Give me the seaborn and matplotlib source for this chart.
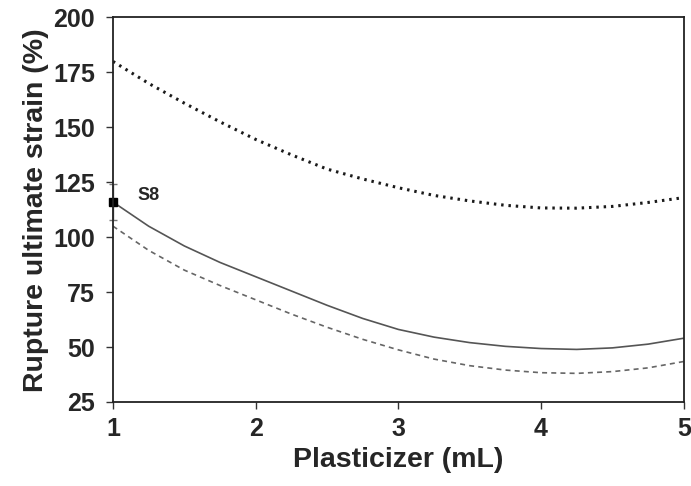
import matplotlib
matplotlib.use("Agg")
import matplotlib.pyplot as plt
import pandas as pd
import seaborn as sns

# values
plasticizer = [1.0, 1.25, 1.5, 1.75, 2.0, 2.25, 2.5, 2.75, 3.0,
               3.25, 3.5, 3.75, 4.0, 4.25, 4.5, 4.75, 5.0]
upper_strain = [180, 170, 161, 152.5, 144.5, 137.5, 131, 126.5, 122.5,
                119, 116.5, 114.5, 113.3, 113.2, 114, 115.8, 118]
mean_strain = [116, 105, 96, 88.5, 82, 75.5, 69, 63, 58,
               54.5, 52, 50.3, 49.3, 48.9, 49.6, 51.3, 54]
lower_strain = [105, 94, 85, 78, 71.5, 65, 59, 53.5, 48.7,
                44.5, 41.5, 39.5, 38.3, 38, 38.8, 40.5, 43.4]

s8_x = 1.0
s8_y = 116
s8_err = 8

df = pd.DataFrame({"x": plasticizer, "upper": upper_strain,
                   "mean": mean_strain, "lower": lower_strain})

sns.set_style("ticks")
plt.rcParams['font.family'] = ['Liberation Sans', 'DejaVu Sans']

fig = plt.figure(figsize=(6.91, 4.86), dpi=100)
ax = fig.add_axes([0.1635, 0.173, 0.826, 0.791])

sns.lineplot(data=df, x="x", y="upper", ax=ax, color="#1a1a1a",
             linewidth=2.2, linestyle=(0, (0.8, 1.6)))
sns.lineplot(data=df, x="x", y="mean", ax=ax, color="#555555", linewidth=1.2)
sns.lineplot(data=df, x="x", y="lower", ax=ax, color="#666666",
             linewidth=1.2, linestyle=(0, (3, 2.5)))

# S8 point
ax.errorbar([s8_x], [s8_y], yerr=[s8_err], fmt="s", color="black",
            markersize=6, ecolor="#777777", elinewidth=1, capsize=3,
            clip_on=False, zorder=5)
ax.text(1.175, 119, "S8", fontsize=13, fontweight="bold", va="center")

ax.set_xlim(1, 5)
ax.set_ylim(25, 200)
ax.set_xticks([1, 2, 3, 4, 5])
ax.set_yticks(range(25, 201, 25))
ax.tick_params(direction="out", length=5, width=1, color="#333333",
               labelsize=18)
ax.tick_params(axis="y", pad=8)
ax.tick_params(axis="x", pad=6)
for lbl in ax.get_xticklabels() + ax.get_yticklabels():
    lbl.set_fontweight("bold")
for sp in ax.spines.values():
    sp.set_visible(True)
    sp.set_color("#222222")
    sp.set_linewidth(1.3)
    sp.set_zorder(10)

ax.set_xlabel("Plasticizer (mL)", fontsize=20.5, fontweight="bold", labelpad=4)
ax.set_ylabel("Rupture ultimate strain (%)", fontsize=20.5, fontweight="bold",
              labelpad=3)

fig.savefig("out.png", dpi=100)
